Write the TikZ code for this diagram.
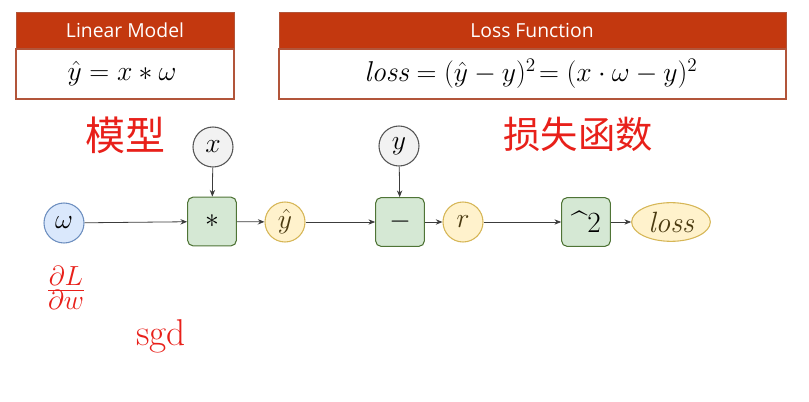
\documentclass[tikz,border=0pt]{standalone}
\usepackage{fontspec}
\setsansfont{Open Sans}
\newfontfamily\cjk{Noto Sans CJK SC}
\usetikzlibrary{arrows.meta,positioning,shapes.geometric}
\definecolor{hdrred}{HTML}{C3380F}
\definecolor{hdrline}{HTML}{B2553A}
\definecolor{inkred}{HTML}{E8201A}
\definecolor{edgegray}{HTML}{3C3C3C}
\definecolor{wfill}{HTML}{DAE8FC}
\definecolor{wline}{HTML}{6C8EBF}
\definecolor{xfill}{HTML}{F2F2F2}
\definecolor{xline}{HTML}{555555}
\definecolor{yfill}{HTML}{FFF2CC}
\definecolor{yline}{HTML}{D6B656}
\definecolor{ytext}{HTML}{4A3A10}
\definecolor{opfill}{HTML}{D5E8D4}
\definecolor{opline}{HTML}{4F7436}
\tikzset{
  hdrtext/.style={text=white, font=\sffamily\fontsize{14.5}{17}\selectfont},
  formula/.style={font=\fontsize{21.5}{24}\selectfont},
  varnode/.style 2 args={circle, draw=#1, fill=#2, thick, minimum size=30pt, inner sep=0pt,
    font=\fontsize{20}{22}\selectfont},
  opnode/.style={rectangle, rounded corners=4pt, draw=opline, thick,
    fill=opfill, minimum size=36.5pt, inner sep=0pt,
    font=\fontsize{20}{22}\selectfont},
  link/.style={draw=edgegray, line width=0.6pt, -{Stealth[length=5pt,width=4pt]}},
  scrawl/.style={text=inkred}
}
\begin{document}
\begin{tikzpicture}[x=0.75pt,y=-0.75pt]
\useasboundingbox (0,0) rectangle (809,402);
% model box
\draw[fill=hdrred, draw=hdrline] (16,12) rectangle (234,49);
\draw[draw=hdrline, thick] (16,49) rectangle (234,99);
\node[hdrtext] (lmhead) at (125,30.5) {Linear Model};
\node[formula] (lmbody) at (122,74) {$\hat{y} = x * \omega$};
% loss box
\draw[fill=hdrred, draw=hdrline] (279,12) rectangle (786,49);
\draw[draw=hdrline, thick] (279,49) rectangle (786,99);
\node[hdrtext] (lfhead) at (532,30.5) {Loss Function};
\node[formula] (lfbody) at (531,74) {$\mathit{loss} = (\hat{y}-y)^2 \!= (x\cdot\omega - y)^2$};
% graph
\node[varnode={wline}{wfill}] (w) at (64,223) {$\omega$};
\node[varnode={xline}{xfill}] (x) at (213,147) {$x$};
\node[opnode] (mul) at (212,221.5) {$*$};
\node[varnode={yline}{yfill}, text=ytext] (yhat) at (285,222) {$\hat{y}$};
\node[varnode={xline}{xfill}] (y) at (399,146) {$y$};
\node[opnode] (sub) at (400,222) {$-$};
\node[varnode={yline}{yfill}, text=ytext] (r) at (463,222) {$r$};
\node[opnode, font=\fontsize{22}{24}\selectfont] (sq) at (586,222) {\textasciicircum 2};
\node[ellipse, draw=yline, thick, fill=yfill, text=ytext, minimum width=59pt,
  minimum height=29pt, inner sep=0pt, font=\fontsize{22}{24}\selectfont] (loss) at (671,222) {$\mathit{loss}$};
\draw[link] (w) -- (mul);
\draw[link] (x) -- (mul);
\draw[link] (mul) -- (yhat);
\draw[link] (yhat) -- (sub);
\draw[link] (y) -- (sub);
\draw[link] (sub) -- (r);
\draw[link] (r) -- (sq);
\draw[link] (sq) -- (loss);
% handwritten notes
\node[scrawl, font=\cjk\fontsize{30}{32}\selectfont] (mx) at (125,135) {模型};
\node[scrawl, font=\cjk\fontsize{28}{30}\selectfont] (ss) at (578,134) {损失函数};
\node[scrawl, font=\fontsize{32}{34}\selectfont] (grad) at (66,288) {$\frac{\partial L}{\partial w}$};
\node[scrawl, font=\fontsize{28}{30}\selectfont] (sgd) at (161,336) {sgd};
\end{tikzpicture}
\end{document}
